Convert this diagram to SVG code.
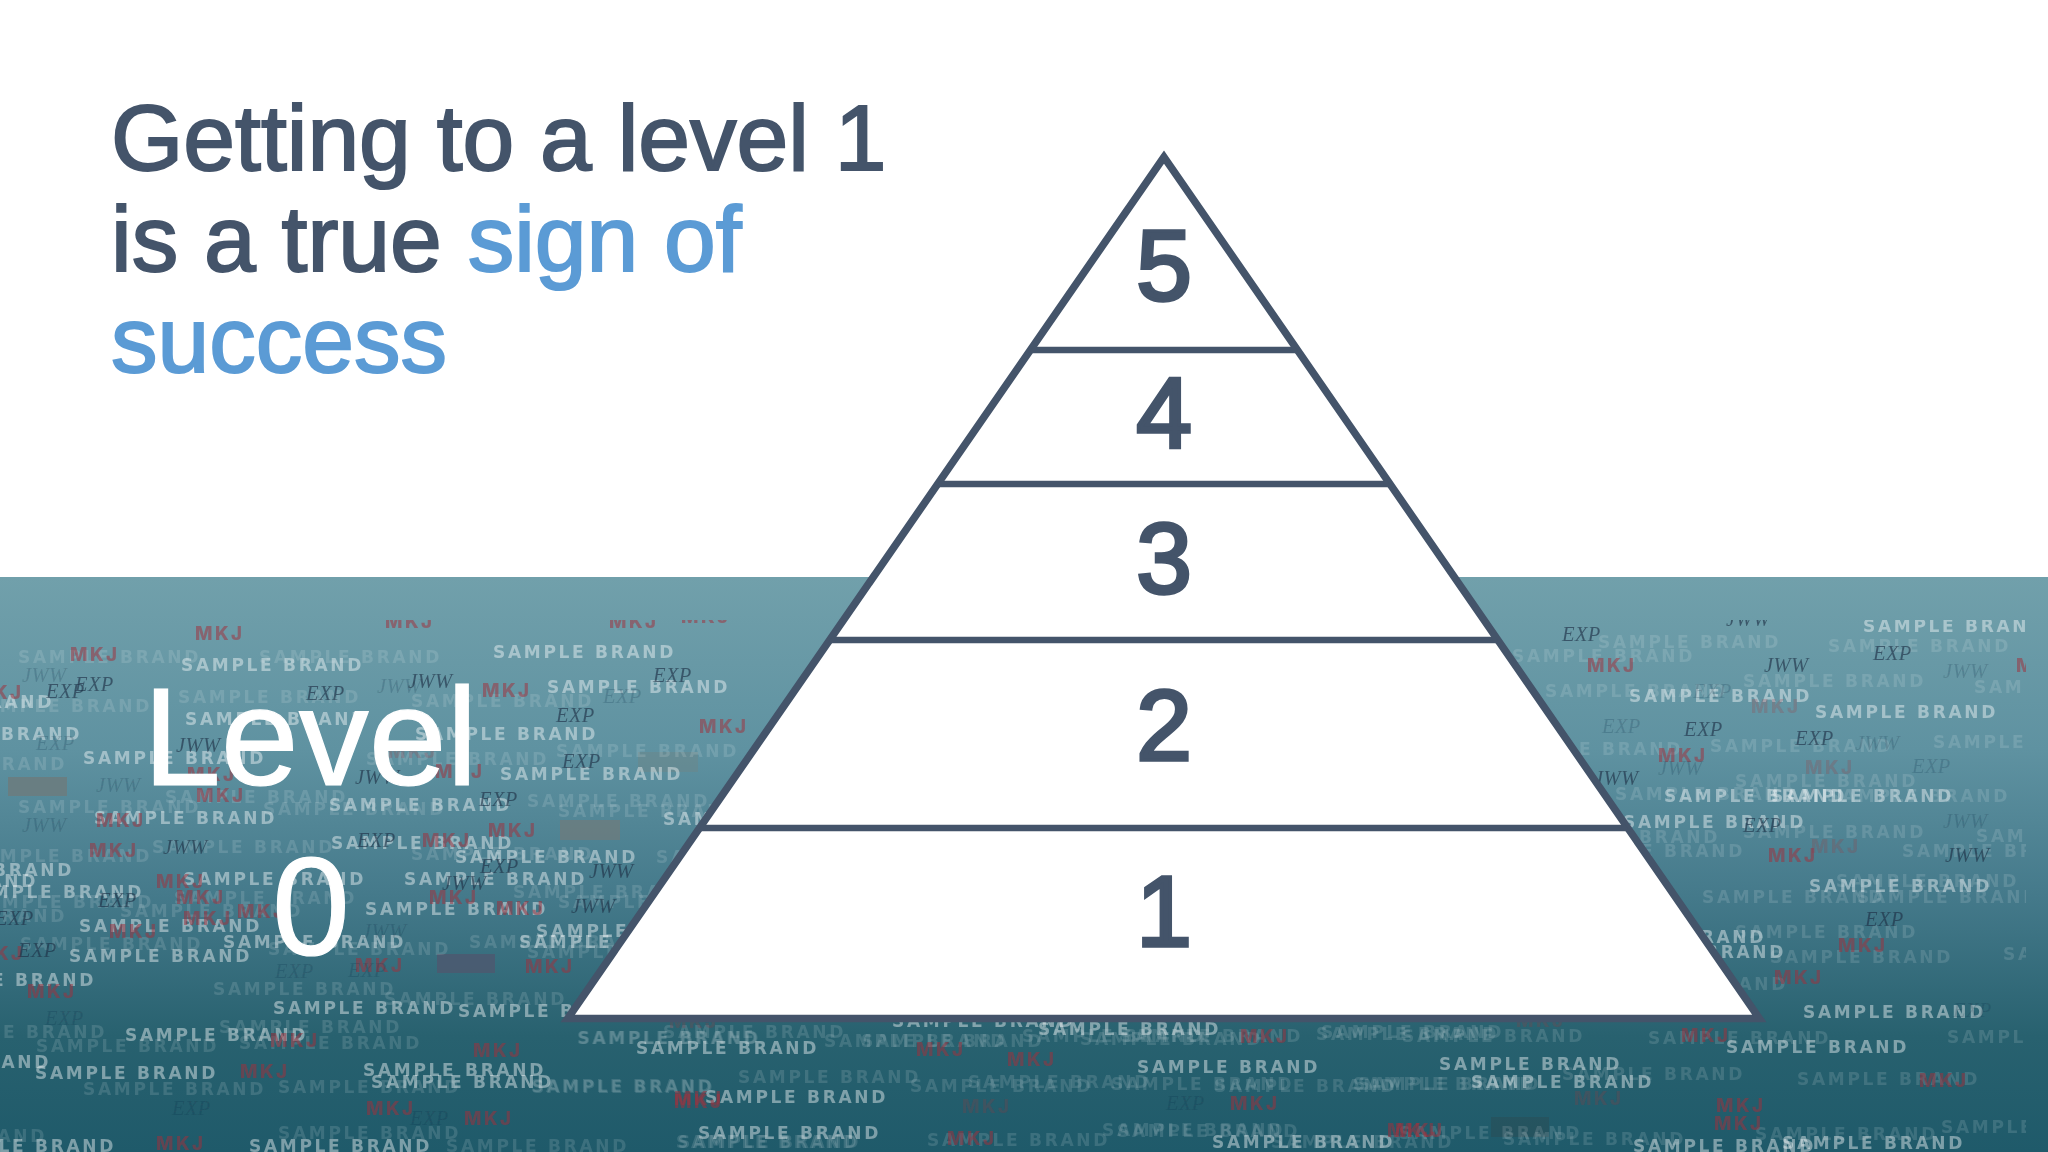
<svg xmlns="http://www.w3.org/2000/svg" width="2048" height="1152" viewBox="0 0 2048 1152">
<style>
.sans{font-family:"Liberation Sans",Arial,sans-serif}
.title{font-size:93px;fill:#44546a;stroke:#44546a;stroke-width:2px}
.blue{fill:#5b9bd5;stroke:#5b9bd5}
.num{font-size:100px;fill:#44546a;stroke:#44546a;stroke-width:3.6px;text-anchor:middle}
.lvl{font-size:140px;fill:#fff;stroke:#fff;stroke-width:1.2px}
.s text,.f text{font-family:"DejaVu Sans","Liberation Sans",sans-serif;font-weight:700;font-size:17px;letter-spacing:2.7px;fill:#fff}
.s text{opacity:.42}
.f text{opacity:.13}
.m text,.mf text{font-family:Inter,"Liberation Sans",sans-serif;font-weight:800;font-size:18.5px;letter-spacing:2.5px;fill:#a2303c}
.m text{opacity:.52}
.mf text{opacity:.22}
.e text,.ef text{font-family:"Liberation Serif",serif;font-style:italic;font-size:20.5px;letter-spacing:.4px;fill:#1d3044}
.e text{opacity:.62}
.ef text{opacity:.2}
.line{stroke:#44546a;stroke-width:6.5;fill:none}
</style>
<defs>
<linearGradient id="sea" x1="0" y1="0" x2="0" y2="1">
<stop offset="0" stop-color="#71a0ab"/><stop offset=".3" stop-color="#5f92a1"/><stop offset=".55" stop-color="#457a8b"/><stop offset=".8" stop-color="#28616f"/><stop offset="1" stop-color="#1f5a6a"/>
</linearGradient>
<clipPath id="band"><rect x="0" y="620" width="2026" height="532"/></clipPath>
<clipPath id="pyr"><polygon points="1164,158 568,1018 1759,1018"/></clipPath>
<filter id="soft" x="-2%" y="-2%" width="104%" height="104%"><feGaussianBlur stdDeviation="0.7"/></filter>
</defs>
<rect width="2048" height="1152" fill="#fff"/>
<rect id="sea-band" x="0" y="577" width="2048" height="575" fill="url(#sea)"/>
<g id="brand-texture" clip-path="url(#band)" filter="url(#soft)">
<rect x="8" y="777" width="59" height="19" fill="#6f7a7a" opacity=".75"/>
<rect x="560" y="820" width="60" height="20" fill="#6f7a7a" opacity=".7"/>
<rect x="638" y="752" width="60" height="20" fill="#6f8484" opacity=".45"/>
<rect x="437" y="954" width="58" height="19" fill="#4c5a70" opacity=".85"/>
<rect x="1491" y="1117" width="58" height="20" fill="#2c4a52" opacity=".5"/>
<g class="f">
<text x="18" y="663">SAMPLE BRAND</text><text x="259" y="663">SAMPLE BRAND</text><text x="411" y="707">SAMPLE BRAND</text><text x="178" y="703">SAMPLE BRAND</text><text x="-31" y="712">SAMPLE BRAND</text><text x="-116" y="770">SAMPLE BRAND</text><text x="556" y="757">SAMPLE BRAND</text><text x="366" y="765">SAMPLE BRAND</text><text x="165" y="803">SAMPLE BRAND</text><text x="18" y="813">SAMPLE BRAND</text><text x="263" y="815">SAMPLE BRAND</text><text x="527" y="807">SAMPLE BRAND</text><text x="558" y="817">SAMPLE BRAND</text><text x="152" y="853">SAMPLE BRAND</text><text x="-31" y="862">SAMPLE BRAND</text><text x="411" y="860">SAMPLE BRAND</text><text x="656" y="863">SAMPLE BRAND</text>
<text x="513" y="898">SAMPLE BRAND</text><text x="558" y="908">SAMPLE BRAND</text><text x="174" y="904">SAMPLE BRAND</text><text x="120" y="917">SAMPLE BRAND</text><text x="-29" y="908">SAMPLE BRAND</text><text x="-116" y="922">SAMPLE BRAND</text><text x="20" y="950">SAMPLE BRAND</text><text x="268" y="955">SAMPLE BRAND</text><text x="469" y="948">SAMPLE BRAND</text><text x="527" y="958">SAMPLE BRAND</text><text x="213" y="995">SAMPLE BRAND</text><text x="384" y="1005">SAMPLE BRAND</text><text x="-76" y="1038">SAMPLE BRAND</text><text x="219" y="1033">SAMPLE BRAND</text><text x="36" y="1052">SAMPLE BRAND</text><text x="239" y="1049">SAMPLE BRAND</text><text x="578" y="1044">SAMPLE BRAND</text><text x="83" y="1095">SAMPLE BRAND</text><text x="278" y="1093">SAMPLE BRAND</text><text x="531" y="1092">SAMPLE BRAND</text><text x="278" y="1139">SAMPLE BRAND</text><text x="446" y="1152">SAMPLE BRAND</text><text x="-136" y="1142">SAMPLE BRAND</text><text x="676" y="1148">SAMPLE BRAND</text>
<text x="1512" y="662">SAMPLE BRAND</text><text x="1598" y="648">SAMPLE BRAND</text><text x="1828" y="652">SAMPLE BRAND</text><text x="1743" y="687">SAMPLE BRAND</text><text x="1545" y="697">SAMPLE BRAND</text><text x="1974" y="693">SAMPLE BRAND</text><text x="1710" y="752">SAMPLE BRAND</text><text x="1933" y="748">SAMPLE BRAND</text><text x="1500" y="755">SAMPLE BRAND</text><text x="1735" y="787">SAMPLE BRAND</text><text x="1827" y="802">SAMPLE BRAND</text><text x="1615" y="800">SAMPLE BRAND</text><text x="1743" y="838">SAMPLE BRAND</text><text x="1902" y="857">SAMPLE BRAND</text><text x="1976" y="842">SAMPLE BRAND</text><text x="1537" y="843">SAMPLE BRAND</text><text x="1562" y="857">SAMPLE BRAND</text>
<text x="1836" y="887">SAMPLE BRAND</text><text x="1857" y="903">SAMPLE BRAND</text><text x="1702" y="903">SAMPLE BRAND</text><text x="1735" y="938">SAMPLE BRAND</text><text x="1770" y="963">SAMPLE BRAND</text><text x="2003" y="960">SAMPLE BRAND</text><text x="1605" y="990">SAMPLE BRAND</text><text x="1947" y="1043">SAMPLE BRAND</text><text x="1648" y="1044">SAMPLE BRAND</text><text x="1402" y="1042">SAMPLE BRAND</text><text x="1316" y="1040">SAMPLE BRAND</text><text x="1562" y="1080">SAMPLE BRAND</text><text x="1797" y="1085">SAMPLE BRAND</text><text x="1353" y="1090">SAMPLE BRAND</text><text x="1399" y="1139">SAMPLE BRAND</text><text x="1503" y="1145">SAMPLE BRAND</text><text x="1755" y="1140">SAMPLE BRAND</text><text x="1941" y="1133">SAMPLE BRAND</text><text x="1271" y="1148">SAMPLE BRAND</text>
<text x="577" y="1044">SAMPLE BRAND</text><text x="663" y="1038">SAMPLE BRAND</text><text x="824" y="1047">SAMPLE BRAND</text><text x="861" y="1047">SAMPLE BRAND</text><text x="1022" y="1042">SAMPLE BRAND</text><text x="1080" y="1045">SAMPLE BRAND</text><text x="1120" y="1042">SAMPLE BRAND</text><text x="1321" y="1038">SAMPLE BRAND</text><text x="738" y="1083">SAMPLE BRAND</text><text x="532" y="1093">SAMPLE BRAND</text><text x="910" y="1092">SAMPLE BRAND</text><text x="968" y="1088">SAMPLE BRAND</text><text x="1111" y="1090">SAMPLE BRAND</text><text x="1214" y="1092">SAMPLE BRAND</text><text x="1358" y="1090">SAMPLE BRAND</text><text x="678" y="1148">SAMPLE BRAND</text><text x="927" y="1146">SAMPLE BRAND</text><text x="1102" y="1136">SAMPLE BRAND</text><text x="1117" y="1137">SAMPLE BRAND</text>
</g>
<g class="s">
<text x="181" y="671">SAMPLE BRAND</text><text x="493" y="658">SAMPLE BRAND</text><text x="547" y="693">SAMPLE BRAND</text><text x="185" y="725">SAMPLE BRAND</text><text x="415" y="740">SAMPLE BRAND</text><text x="-101" y="740">SAMPLE BRAND</text><text x="83" y="764">SAMPLE BRAND</text><text x="500" y="780">SAMPLE BRAND</text><text x="329" y="811">SAMPLE BRAND</text><text x="94" y="824">SAMPLE BRAND</text><text x="331" y="849">SAMPLE BRAND</text><text x="455" y="863">SAMPLE BRAND</text><text x="663" y="825">SAMPLE BRAND</text><text x="-129" y="708">SAMPLE BRAND</text><text x="-109" y="876">SAMPLE BRAND</text>
<text x="-145" y="887">SAMPLE BRAND</text><text x="-39" y="898">SAMPLE BRAND</text><text x="183" y="885">SAMPLE BRAND</text><text x="404" y="885">SAMPLE BRAND</text><text x="365" y="915">SAMPLE BRAND</text><text x="79" y="932">SAMPLE BRAND</text><text x="223" y="948">SAMPLE BRAND</text><text x="536" y="937">SAMPLE BRAND</text><text x="519" y="948">SAMPLE BRAND</text><text x="69" y="962">SAMPLE BRAND</text><text x="-87" y="986">SAMPLE BRAND</text><text x="273" y="1014">SAMPLE BRAND</text><text x="458" y="1017">SAMPLE BRAND</text><text x="125" y="1041">SAMPLE BRAND</text><text x="-132" y="1068">SAMPLE BRAND</text><text x="35" y="1079">SAMPLE BRAND</text><text x="363" y="1076">SAMPLE BRAND</text><text x="371" y="1088">SAMPLE BRAND</text><text x="249" y="1152">SAMPLE BRAND</text><text x="-67" y="1152">SAMPLE BRAND</text><text x="636" y="1054">SAMPLE BRAND</text>
<text x="1629" y="702">SAMPLE BRAND</text><text x="1815" y="718">SAMPLE BRAND</text><text x="1664" y="802">SAMPLE BRAND</text><text x="1771" y="802">SAMPLE BRAND</text><text x="1623" y="828">SAMPLE BRAND</text><text x="1863" y="632">SAMPLE BRAND</text>
<text x="1809" y="892">SAMPLE BRAND</text><text x="1583" y="943">SAMPLE BRAND</text><text x="1603" y="958">SAMPLE BRAND</text><text x="1803" y="1018">SAMPLE BRAND</text><text x="1726" y="1053">SAMPLE BRAND</text><text x="1439" y="1070">SAMPLE BRAND</text><text x="1471" y="1088">SAMPLE BRAND</text><text x="1633" y="1152">SAMPLE BRAND</text><text x="1782" y="1149">SAMPLE BRAND</text>
<text x="892" y="1027">SAMPLE BRAND</text><text x="1038" y="1035">SAMPLE BRAND</text><text x="1137" y="1073">SAMPLE BRAND</text><text x="705" y="1103">SAMPLE BRAND</text><text x="698" y="1139">SAMPLE BRAND</text><text x="1212" y="1148">SAMPLE BRAND</text>
</g>
<g class="mf">
<text x="388" y="758">MKJ</text><text x="1751" y="713">MKJ</text><text x="1811" y="853">MKJ</text><text x="1805" y="774">MKJ</text><text x="1516" y="1027">MKJ</text><text x="1574" y="1105">MKJ</text><text x="962" y="1113">MKJ</text><text x="669" y="1028">MKJ</text>
</g>
<g class="m">
<text x="195" y="640">MKJ</text><text x="385" y="628">MKJ</text><text x="609" y="628">MKJ</text><text x="681" y="623">MKJ</text><text x="70" y="661">MKJ</text><text x="-26" y="699">MKJ</text><text x="482" y="697">MKJ</text><text x="196" y="802">MKJ</text><text x="435" y="778">MKJ</text><text x="488" y="837">MKJ</text><text x="422" y="847">MKJ</text><text x="89" y="857">MKJ</text><text x="699" y="733">MKJ</text><text x="96" y="827">MKJ</text><text x="187" y="781">MKJ</text>
<text x="156" y="888">MKJ</text><text x="176" y="904">MKJ</text><text x="429" y="904">MKJ</text><text x="183" y="925">MKJ</text><text x="237" y="918">MKJ</text><text x="496" y="915">MKJ</text><text x="109" y="938">MKJ</text><text x="-25" y="960">MKJ</text><text x="355" y="972">MKJ</text><text x="525" y="973">MKJ</text><text x="27" y="998">MKJ</text><text x="270" y="1047">MKJ</text><text x="473" y="1057">MKJ</text><text x="240" y="1078">MKJ</text><text x="366" y="1115">MKJ</text><text x="464" y="1125">MKJ</text><text x="156" y="1150">MKJ</text><text x="674" y="1105">MKJ</text>
<text x="1587" y="672">MKJ</text><text x="1658" y="762">MKJ</text><text x="1768" y="862">MKJ</text><text x="2016" y="672">MKJ</text><text x="1838" y="952">MKJ</text><text x="1774" y="984">MKJ</text><text x="1681" y="1042">MKJ</text><text x="1919" y="1087">MKJ</text><text x="1716" y="1112">MKJ</text><text x="1714" y="1130">MKJ</text><text x="1395" y="1137">MKJ</text>
<text x="916" y="1056">MKJ</text><text x="1007" y="1066">MKJ</text><text x="1240" y="1043">MKJ</text><text x="674" y="1108">MKJ</text><text x="1230" y="1110">MKJ</text><text x="947" y="1145">MKJ</text><text x="1387" y="1137">MKJ</text>
</g>
<g class="ef">
<text x="36" y="750">EXP</text><text x="603" y="703">EXP</text><text x="377" y="693">JWW</text><text x="22" y="682">JWW</text><text x="96" y="792">JWW</text><text x="22" y="832">JWW</text><text x="275" y="978">EXP</text><text x="348" y="977">EXP</text><text x="362" y="938">JWW</text><text x="172" y="1115">EXP</text><text x="410" y="1125">EXP</text><text x="45" y="1025">EXP</text><text x="1602" y="733">EXP</text><text x="1912" y="773">EXP</text><text x="1943" y="678">JWW</text><text x="1855" y="750">JWW</text><text x="1658" y="775">JWW</text><text x="1943" y="828">JWW</text><text x="1693" y="698">EXP</text><text x="1953" y="1017">EXP</text><text x="1166" y="1110">EXP</text>
</g>
<g class="e">
<text x="75" y="691">EXP</text><text x="46" y="698">EXP</text><text x="306" y="700">EXP</text><text x="653" y="682">EXP</text><text x="556" y="722">EXP</text><text x="562" y="768">EXP</text><text x="479" y="806">EXP</text><text x="357" y="847">EXP</text><text x="480" y="873">EXP</text><text x="98" y="907">EXP</text><text x="-5" y="925">EXP</text><text x="18" y="957">EXP</text>
<text x="408" y="688">JWW</text><text x="176" y="752">JWW</text><text x="355" y="784">JWW</text><text x="163" y="854">JWW</text><text x="589" y="878">JWW</text><text x="571" y="913">JWW</text><text x="442" y="890">JWW</text>
<text x="1562" y="641">EXP</text><text x="1873" y="660">EXP</text><text x="1684" y="736">EXP</text><text x="1795" y="745">EXP</text><text x="1743" y="832">EXP</text><text x="1865" y="926">EXP</text>
<text x="1726" y="626">JWW</text><text x="1764" y="672">JWW</text><text x="1594" y="785">JWW</text><text x="1945" y="862">JWW</text>
</g>
</g>
<g id="pyramid">
<polygon points="1164,157 567.7,1018.5 1759.4,1018.5" fill="#fff" stroke="#44546a" stroke-width="7.5" stroke-miterlimit="10"/>
</g>
<g id="connectors" clip-path="url(#pyr)">
<line class="line" x1="500" y1="350" x2="1800" y2="350"/>
<line class="line" x1="500" y1="484" x2="1800" y2="484"/>
<line class="line" x1="500" y1="640" x2="1800" y2="640"/>
<line class="line" x1="500" y1="828" x2="1800" y2="828"/>
</g>
<g id="level-5"><text class="sans num" x="1164" y="300">5</text></g>
<g id="level-4"><text class="sans num" x="1164" y="448">4</text></g>
<g id="level-3"><text class="sans num" x="1164" y="593">3</text></g>
<g id="level-2"><text class="sans num" x="1164" y="760">2</text></g>
<g id="level-1"><text class="sans num" x="1164" y="946">1</text></g>
<g id="level-0">
<text class="sans lvl" x="143" y="785">Level</text>
<text class="sans lvl" x="311" y="955" text-anchor="middle">0</text>
</g>
<g id="title">
<text class="sans title" x="111" y="170">Getting to a level 1</text>
<text class="sans title" x="111" y="271">is a true <tspan class="blue">sign of</tspan></text>
<text class="sans title blue" x="111" y="372">success</text>
</g>
</svg>
